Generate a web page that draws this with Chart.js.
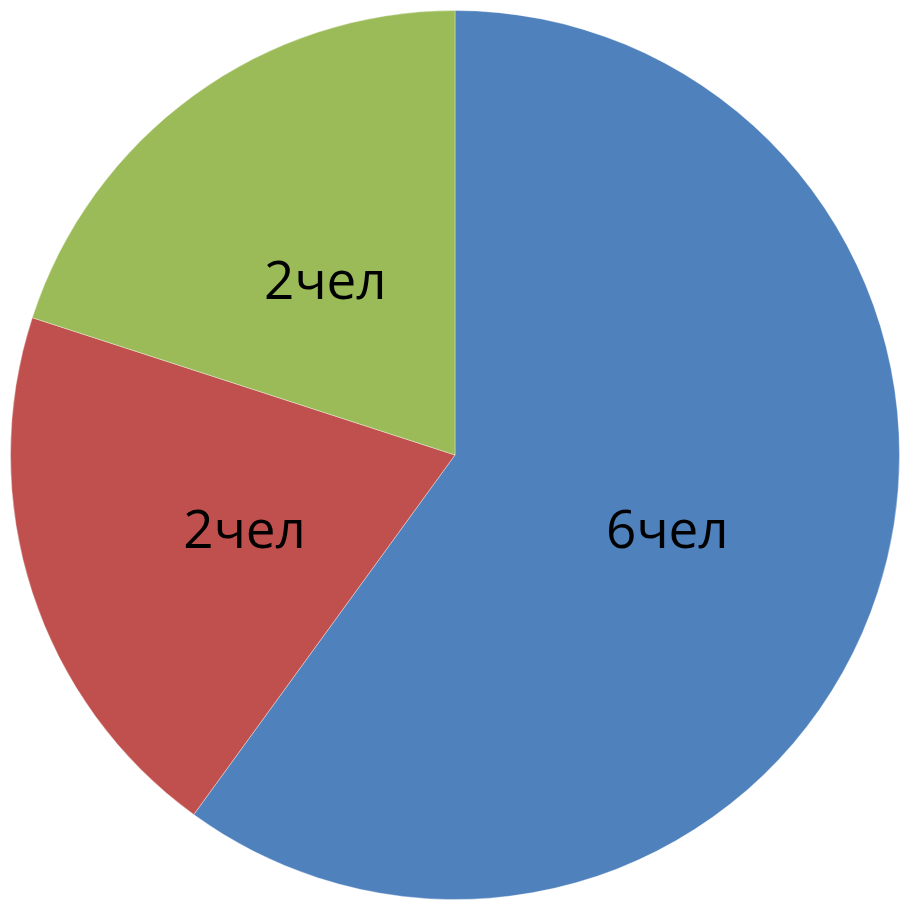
<!DOCTYPE html>
<html>
<head>
<meta charset="utf-8">
<script src="https://cdn.jsdelivr.net/npm/chart.js@4/dist/chart.umd.min.js"></script>
<style>
  html, body { margin: 0; padding: 0; background: #fff; }
  #wrap { width: 903px; height: 907px; }
</style>
</head>
<body>
<div id="wrap"><canvas id="pie"></canvas></div>
<script>
// -------- Data ----------
const labels = ["Группа 1", "Группа 2", "Группа 3"];
const values = [6, 2, 2];
const sliceLabels = ["6чел", "2чел", "2чел"];
const colors = ["#4F81BD", "#C0504D", "#9BBB59"];

// draws the "Nчел" text in the middle of each slice
const sliceText = {
  id: "sliceText",
  afterDatasetsDraw(chart) {
    const ctx = chart.ctx;
    const meta = chart.getDatasetMeta(0);
    ctx.save();
    ctx.font = '53px "Open Sans", sans-serif';
    ctx.fillStyle = "#000";
    ctx.textAlign = "center";
    ctx.textBaseline = "middle";
    meta.data.forEach((arc, i) => {
      const p = arc.getCenterPoint();
      ctx.fillText(sliceLabels[i], p.x + 1, p.y + 9);
    });
    ctx.restore();
  }
};

new Chart(document.getElementById("pie"), {
  type: "pie",
  data: {
    labels,
    datasets: [{
      data: values,
      backgroundColor: colors,
      borderColor: "rgba(255,255,255,0.35)",
      borderWidth: 1
    }]
  },
  options: {
    responsive: true,
    maintainAspectRatio: false,
    animation: false,
    layout: { padding: { left: 9, right: 2, top: 10, bottom: 7 } },
    plugins: { legend: { display: false }, tooltip: { enabled: false } }
  },
  plugins: [sliceText]
});
</script>
</body>
</html>
